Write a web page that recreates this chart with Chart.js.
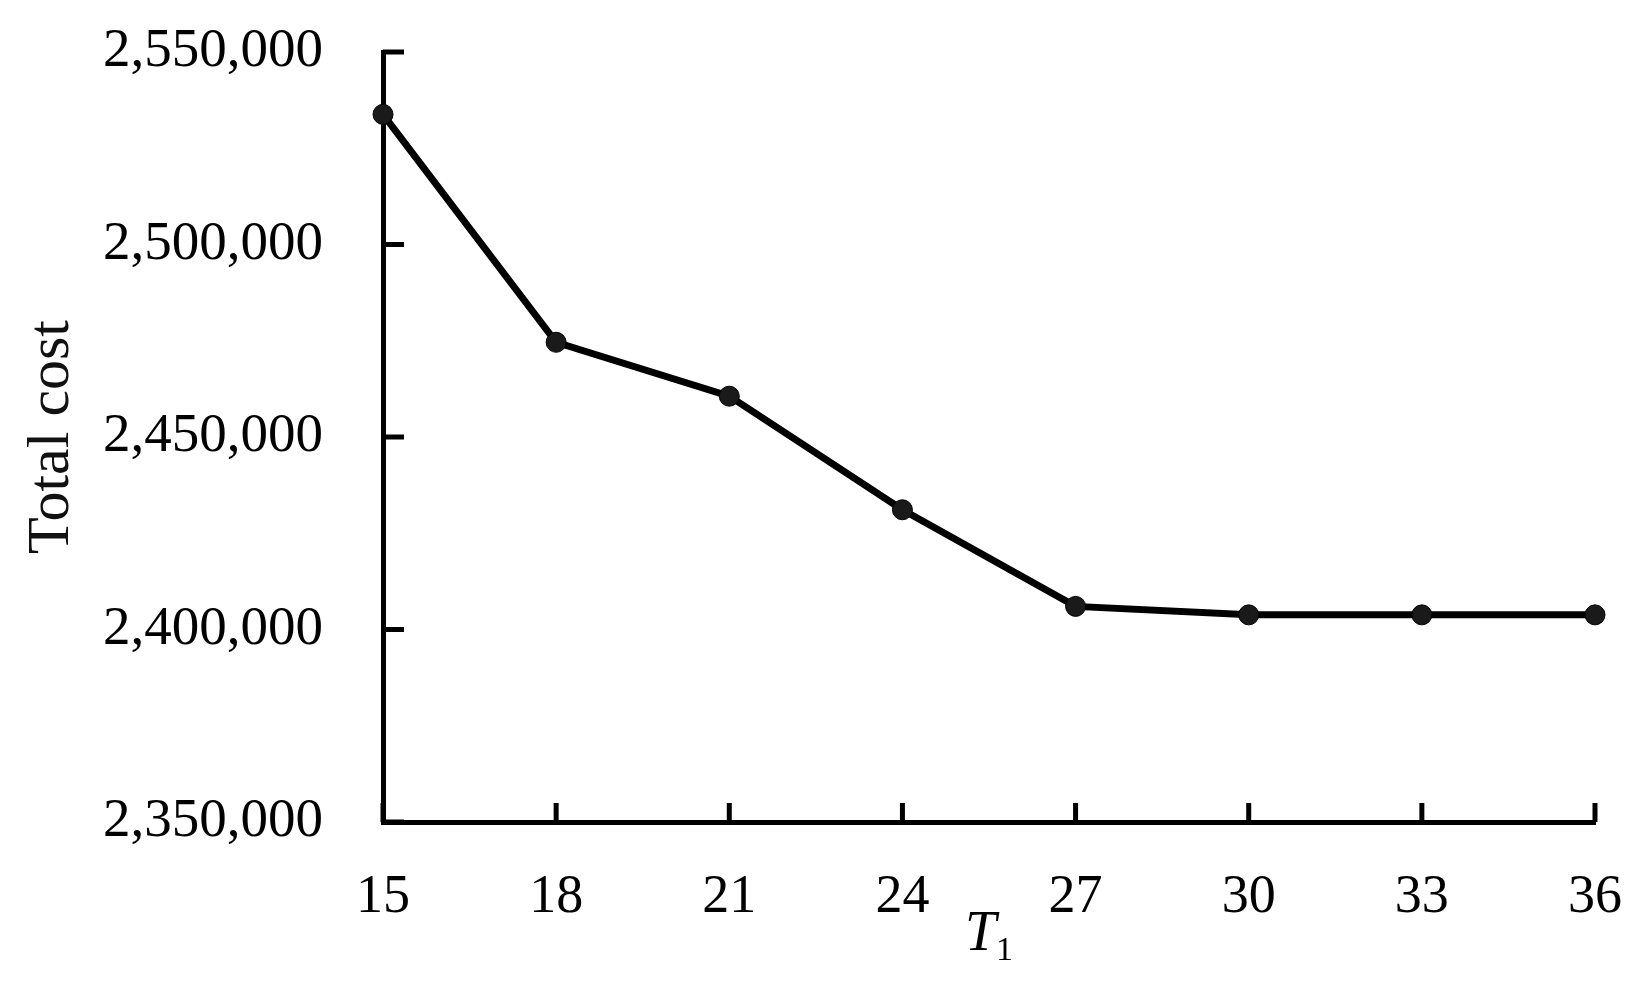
<!DOCTYPE html>
<html>
<head>
<meta charset="utf-8">
<script src="https://cdn.jsdelivr.net/npm/chart.js@4"></script>
<style>
html,body{margin:0;padding:0;background:#fff;}
canvas{display:block;}
</style>
</head>
<body>
<canvas id="c" width="1633" height="990"></canvas>
<script>
const categories = ['15','18','21','24','27','30','33','36'];
const totalCost = [2533800, 2474600, 2460600, 2431100, 2406000, 2403800, 2403800, 2403800];
const yTicks = [2350000, 2400000, 2450000, 2500000, 2550000];
const xTitleMain = 'T';
const xTitleSub = '1';
const yTitle = 'Total cost';

const FONT = "'Liberation Serif', 'DejaVu Serif', serif";

const inwardTicks = {
  id: 'inwardTicks',
  afterDatasetsDraw(chart) {
    const ctx = chart.ctx;
    const xs = chart.scales.x, ys = chart.scales.y;
    ctx.save();
    ctx.strokeStyle = '#000';
    ctx.lineWidth = 5;
    ctx.lineCap = 'butt';
    ys.ticks.forEach((t, i) => {
      const y = ys.getPixelForTick(i);
      ctx.beginPath();
      ctx.moveTo(xs.left, y);
      ctx.lineTo(xs.left + 21, y);
      ctx.stroke();
    });
    xs.ticks.forEach((t, i) => {
      const x = xs.getPixelForTick(i);
      ctx.beginPath();
      ctx.moveTo(x, ys.bottom);
      ctx.lineTo(x, ys.bottom - 19);
      ctx.stroke();
    });
    // x axis title: italic T with upright subscript 1
    const cx = (xs.left + xs.right) / 2;
    ctx.fillStyle = '#000';
    ctx.textBaseline = 'alphabetic';
    ctx.font = "italic 56px " + FONT;
    const wT = ctx.measureText(xTitleMain).width;
    ctx.font = "34px " + FONT;
    const w1 = ctx.measureText(xTitleSub).width;
    const startX = cx - (wT + w1) / 2;
    ctx.font = "italic 56px " + FONT;
    ctx.textAlign = 'left';
    ctx.fillText(xTitleMain, startX, 950);
    ctx.font = "34px " + FONT;
    ctx.fillText(xTitleSub, startX + wT, 960);
    ctx.restore();
  }
};

new Chart(document.getElementById('c'), {
  type: 'line',
  data: {
    labels: categories,
    datasets: [{
      data: totalCost,
      borderColor: '#000',
      backgroundColor: '#000',
      borderWidth: 7,
      pointRadius: 10,
      pointBackgroundColor: '#1a1a1a',
      pointBorderColor: '#000',
      pointBorderWidth: 1,
      tension: 0,
      fill: false
    }]
  },
  options: {
    responsive: false,
    animation: false,
    layout: { padding: { top: 52, right: 38, left: 0, bottom: 0 } },
    plugins: { legend: { display: false }, tooltip: { enabled: false } },
    scales: {
      x: {
        type: 'category',
        offset: false,
        grid: { display: false, drawTicks: false },
        border: { display: true, color: '#000', width: 5 },
        ticks: { color: '#000', font: { family: FONT, size: 54 }, padding: 43, maxRotation: 0, autoSkip: false },
        afterFit(scale) {
          scale.height = 990 - 822;
          scale.paddingLeft = 0;
          scale.paddingRight = 0;
        }
      },
      y: {
        min: yTicks[0],
        max: yTicks[yTicks.length - 1],
        afterBuildTicks(scale) { scale.ticks = yTicks.map(v => ({ value: v })); },
        grid: { display: false, drawTicks: false },
        border: { display: true, color: '#000', width: 5 },
        ticks: {
          color: '#000',
          font: { family: FONT, size: 55 },
          padding: 60,
          callback: v => Number(v).toLocaleString('en-US')
        },
        title: {
          display: true,
          text: yTitle,
          color: '#111',
          font: { family: FONT, size: 60 },
          padding: { top: 16, bottom: 0 }
        },
        afterFit(scale) {
          scale.width = 383;
          scale.paddingTop = 0;
          scale.paddingBottom = 0;
        }
      }
    }
  },
  plugins: [inwardTicks]
});
</script>
</body>
</html>
